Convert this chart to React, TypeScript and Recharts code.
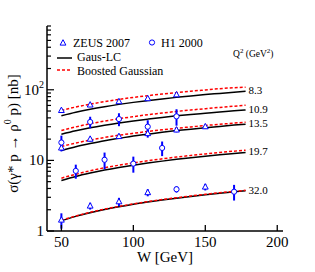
import React from 'react';
import { ComposedChart, Line, Scatter, XAxis, YAxis, ErrorBar, Label, LabelList, Customized } from 'recharts';

const FONT = "'Liberation Serif', 'Times New Roman', Times, serif";
const BLUE = '#0000ff';
const RED = '#ff0000';

// model curves: W grid
const curveW = [50, 60, 70, 80, 90, 100, 110, 120, 130, 140, 150, 160, 170, 178];
const q2Labels = ['8.3', '10.9', '13.5', '19.7', '32.0'];

const gausLC83 = [43, 48.2, 53.1, 57.7, 62.1, 66.3, 70.3, 74.3, 78.1, 81.8, 85.4, 88.8, 92.3, 95];
const gausLC109 = [23.5, 26.3, 29.0, 31.5, 33.9, 36.2, 38.4, 40.6, 42.7, 44.7, 46.6, 48.6, 50.4, 51.9];
const gausLC135 = [13.8, 15.6, 17.3, 19.0, 20.5, 22.1, 23.5, 25.0, 26.4, 27.7, 29.0, 30.3, 31.6, 32.6];
const gausLC197 = [5.2, 5.93, 6.62, 7.3, 7.94, 8.56, 9.17, 9.76, 10.35, 10.91, 11.47, 12.02, 12.55, 12.97];
const gausLC320 = [1.4, 1.61, 1.81, 2.01, 2.2, 2.39, 2.57, 2.75, 2.92, 3.09, 3.26, 3.43, 3.59, 3.72];

const boosted83 = [51, 57, 62.5, 68, 73, 78, 82.5, 87, 91, 95.5, 99.5, 103.5, 107, 109];
const boosted109 = [26.5, 29.8, 33.0, 36.0, 38.9, 41.6, 44.3, 46.8, 49.3, 51.7, 54.0, 56.3, 58.6, 60.3];
const boosted135 = [15.7, 17.6, 19.4, 21.1, 22.7, 24.2, 25.7, 27.1, 28.5, 29.8, 31.2, 32.4, 33.7, 34.7];
const boosted197 = [5.6, 6.38, 7.13, 7.86, 8.55, 9.22, 9.88, 10.51, 11.14, 11.75, 12.35, 12.94, 13.52, 13.97];
const boosted320 = [1.42, 1.63, 1.84, 2.04, 2.23, 2.42, 2.61, 2.79, 2.96, 3.14, 3.31, 3.48, 3.64, 3.77];

const gausLCSets = [gausLC83, gausLC109, gausLC135, gausLC197, gausLC320];
const boostedSets = [boosted83, boosted109, boosted135, boosted197, boosted320];

// ZEUS 2007
const zeus83W = [50, 70, 90, 110, 130];
const zeus83 = [51, 61, 68, 75, 85];
const zeus83Err = [3, 3, 3.5, 4, 4.5];
const zeus135W = [50, 70, 90, 110, 130, 150];
const zeus135 = [15, 20, 21.8, 24, 27, 30];
const zeus135Err = [1.2, 1.5, 1.5, 3, 2, 2];
const zeus320W = [50, 70, 90, 110, 150];
const zeus320 = [1.43, 2.26, 2.6, 3.5, 4.2];
const zeus320Err = [0.35, 0.25, 0.35, 0.4, 0.45];

// H1 2000
const h1109W = [70, 90, 110, 130];
const h1109 = [35, 38.5, 30, 42];
const h1109Err = [6.5, 8, 7, 11];
const h1135W = [50];
const h1135 = [17.9];
const h1135Err = [4.5];
const h1197W = [60, 80, 100, 120];
const h1197 = [7.1, 10.2, 9.0, 15];
const h1197Err = [1.6, 2.7, 2.3, 3.5];
const h1320W = [130, 170];
const h1320 = [3.9, 3.6];
const h1320Err = [0.4, 0.9];

// axes
const xTicks = [50, 100, 150, 200];
const yMajorTicks = [1, 10, 100];
const yMajorLabels = ['1', '10', '10^2'];
const yMinorTicks = [2, 3, 4, 5, 6, 7, 8, 9, 20, 30, 40, 50, 60, 70, 80, 90, 200, 300, 400, 500, 600, 700, 800];
const yTicks = [...yMajorTicks, ...yMinorTicks].sort((a, b) => a - b);

const mkCurve = (vals: number[]) => curveW.map((w, i) => ({ w, v: vals[i] }));
const mkPts = (ws: number[], vs: number[], es: number[]) => ws.map((w, i) => ({ w, v: vs[i], e: es[i] }));

const zeusData = [
  ...mkPts(zeus83W, zeus83, zeus83Err),
  ...mkPts(zeus135W, zeus135, zeus135Err),
  ...mkPts(zeus320W, zeus320, zeus320Err),
];
const h1Data = [
  ...mkPts(h1109W, h1109, h1109Err),
  ...mkPts(h1135W, h1135, h1135Err),
  ...mkPts(h1197W, h1197, h1197Err),
  ...mkPts(h1320W, h1320, h1320Err),
];

const Tri = (p: any) => {
  const { cx, cy } = p;
  if (cx == null || cy == null) return <g />;
  return (
    <polygon
      points={`${cx},${cy - 3.3} ${cx - 2.9},${cy + 2.1} ${cx + 2.9},${cy + 2.1}`}
      fill="#fff"
      stroke={BLUE}
      strokeWidth={1}
    />
  );
};
const Circ = (p: any) => {
  const { cx, cy } = p;
  if (cx == null || cy == null) return <g />;
  return <circle cx={cx} cy={cy} r={2.6} fill="#fff" stroke={BLUE} strokeWidth={1} />;
};

const renderMajorLabel = (lab: string, x: number, y: number) => {
  const [base, sup] = lab.split('^');
  return (
    <text x={x} y={y + 5} textAnchor="end" fontSize={15} fontFamily={FONT} fill="#000">
      {base}
      {sup ? (
        <tspan fontSize={10} dy={-7}>
          {sup}
        </tspan>
      ) : null}
    </text>
  );
};

const BottomTick = (p: any) => {
  const { x, y, payload } = p;
  return (
    <g>
      <line x1={x} y1={y} x2={x} y2={y - 6} stroke="#000" strokeWidth={1.3} />
      <text x={x} y={y + 16} textAnchor="middle" fontSize={15} fontFamily={FONT} fill="#000">
        {payload.value}
      </text>
    </g>
  );
};
const TopTick = (p: any) => {
  const { x, y } = p;
  return <line x1={x} y1={y} x2={x} y2={y + 6} stroke="#000" strokeWidth={1.3} />;
};
const LeftTick = (p: any) => {
  const { x, y, payload } = p;
  const idx = yMajorTicks.indexOf(payload.value);
  const major = idx >= 0;
  return (
    <g>
      <line x1={x} y1={y} x2={x + (major ? 7 : 4)} y2={y} stroke="#000" strokeWidth={1.2} />
      {major ? renderMajorLabel(yMajorLabels[idx], x - 3, y) : null}
    </g>
  );
};
const RightTick = (p: any) => {
  const { x, y, payload } = p;
  const major = yMajorTicks.indexOf(payload.value) >= 0;
  return <line x1={x} y1={y} x2={x - (major ? 7 : 4)} y2={y} stroke="#000" strokeWidth={1.2} />;
};

const XTitle = (p: any) => {
  const vb = p.viewBox || {};
  return (
    <text x={vb.x + vb.width / 2} y={vb.y + 31} textAnchor="middle" fontSize={15} fontFamily={FONT} fill="#000">
      W [GeV]
    </text>
  );
};
const YTitle = (p: any) => {
  const vb = p.viewBox || {};
  const cx = vb.x + 13;
  const cy = vb.y + vb.height / 2 + 5;
  return (
    <text
      x={cx}
      y={cy}
      transform={`rotate(-90, ${cx}, ${cy})`}
      textAnchor="middle"
      dominantBaseline="central"
      fontSize={15}
      fontFamily={FONT}
      fill="#000"
    >
      σ(γ* p → ρ
      <tspan fontSize={10} dy={-6}>0</tspan>
      <tspan dy={6}> p) [nb]</tspan>
    </text>
  );
};

const LegendLayer = () => (
  <g fontFamily={FONT} fill="#000">
    <Tri cx={63} cy={43} />
    <text x={73} y={47} fontSize={12} fontFamily={FONT}>ZEUS 2007</text>
    <Circ cx={152} cy={42.5} />
    <text x={161} y={47} fontSize={12} fontFamily={FONT}>H1 2000</text>
    <line x1={57} y1={58} x2={72} y2={58} stroke="#000" strokeWidth={1.5} />
    <text x={77} y={61} fontSize={12} fontFamily={FONT}>Gaus-LC</text>
    <line x1={57} y1={70} x2={72} y2={70} stroke={RED} strokeWidth={1.5} strokeDasharray="3 2" />
    <text x={77} y={75} fontSize={12} fontFamily={FONT}>Boosted Gaussian</text>
    <text x={233} y={57} fontSize={9.5} fontFamily={FONT}>
      Q<tspan fontSize={7} dy={-4}>2</tspan>
      <tspan dy={4}> (GeV</tspan>
      <tspan fontSize={7} dy={-4}>2</tspan>
      <tspan dy={4}>)</tspan>
    </text>
  </g>
);

const makeEndLabel = (txt: string) => (p: any) => {
  const { x, y, index } = p;
  if (index !== curveW.length - 1) return null;
  return (
    <text x={x + 3} y={y + 3} fontSize={11} fontFamily={FONT} fill="#000">
      {txt}
    </text>
  );
};

export default function App() {
  return (
    <div style={{ position: 'absolute', left: 0, top: 0, background: '#fff', fontFamily: FONT }}>
      <ComposedChart width={315} height={272} margin={{ top: 26, right: 32, bottom: 0, left: 0 }}>
        <XAxis
          xAxisId="b"
          dataKey="w"
          type="number"
          orientation="bottom"
          domain={[40, 204]}
          allowDataOverflow
          ticks={xTicks}
          interval={0}
          height={41}
          tickSize={0}
          tickMargin={0}
          tickLine={false}
          axisLine={{ stroke: '#000', strokeWidth: 1.5 }}
          tick={BottomTick}
        >
          <Label content={XTitle} />
        </XAxis>
        <XAxis
          xAxisId="t"
          dataKey="w"
          type="number"
          orientation="top"
          domain={[40, 204]}
          allowDataOverflow
          ticks={xTicks}
          interval={0}
          height={0}
          tickSize={0}
          tickMargin={0}
          tickLine={false}
          axisLine={{ stroke: '#000', strokeWidth: 1.5 }}
          tick={TopTick}
        />
        <YAxis
          yAxisId="l"
          dataKey="v"
          type="number"
          scale="log"
          orientation="left"
          domain={[1, 800]}
          allowDataOverflow
          ticks={yTicks}
          interval={0}
          width={47}
          tickSize={0}
          tickMargin={0}
          tickLine={false}
          axisLine={{ stroke: '#000', strokeWidth: 1.5 }}
          tick={LeftTick}
        >
          <Label content={YTitle} />
        </YAxis>
        <YAxis
          yAxisId="r"
          type="number"
          scale="log"
          orientation="right"
          domain={[1, 800]}
          allowDataOverflow
          ticks={yTicks}
          interval={0}
          width={0}
          tickSize={0}
          tickMargin={0}
          tickLine={false}
          axisLine={{ stroke: '#000', strokeWidth: 1.5 }}
          tick={RightTick}
        />
        {gausLCSets.map((vals, i) => (
          <Line
            key={'g' + i}
            xAxisId="b"
            yAxisId="l"
            data={mkCurve(vals)}
            dataKey="v"
            stroke="#000"
            strokeWidth={1.5}
            dot={false}
            isAnimationActive={false}
            type="monotone"
          >
            <LabelList dataKey="v" content={makeEndLabel(q2Labels[i])} />
          </Line>
        ))}
        {boostedSets.map((vals, i) => (
          <Line
            key={'b' + i}
            xAxisId="b"
            yAxisId="l"
            data={mkCurve(vals)}
            dataKey="v"
            stroke={RED}
            strokeWidth={1.5}
            strokeDasharray="3 2"
            dot={false}
            isAnimationActive={false}
            type="monotone"
          />
        ))}
        <Scatter xAxisId="b" yAxisId="l" data={zeusData} dataKey="v" shape={Tri} isAnimationActive={false}>
          <ErrorBar dataKey="e" direction="y" width={0} stroke={BLUE} strokeWidth={2} />
        </Scatter>
        <Scatter xAxisId="b" yAxisId="l" data={h1Data} dataKey="v" shape={Circ} isAnimationActive={false}>
          <ErrorBar dataKey="e" direction="y" width={0} stroke={BLUE} strokeWidth={2} />
        </Scatter>
        <Customized component={LegendLayer} />
      </ComposedChart>
    </div>
  );
}
